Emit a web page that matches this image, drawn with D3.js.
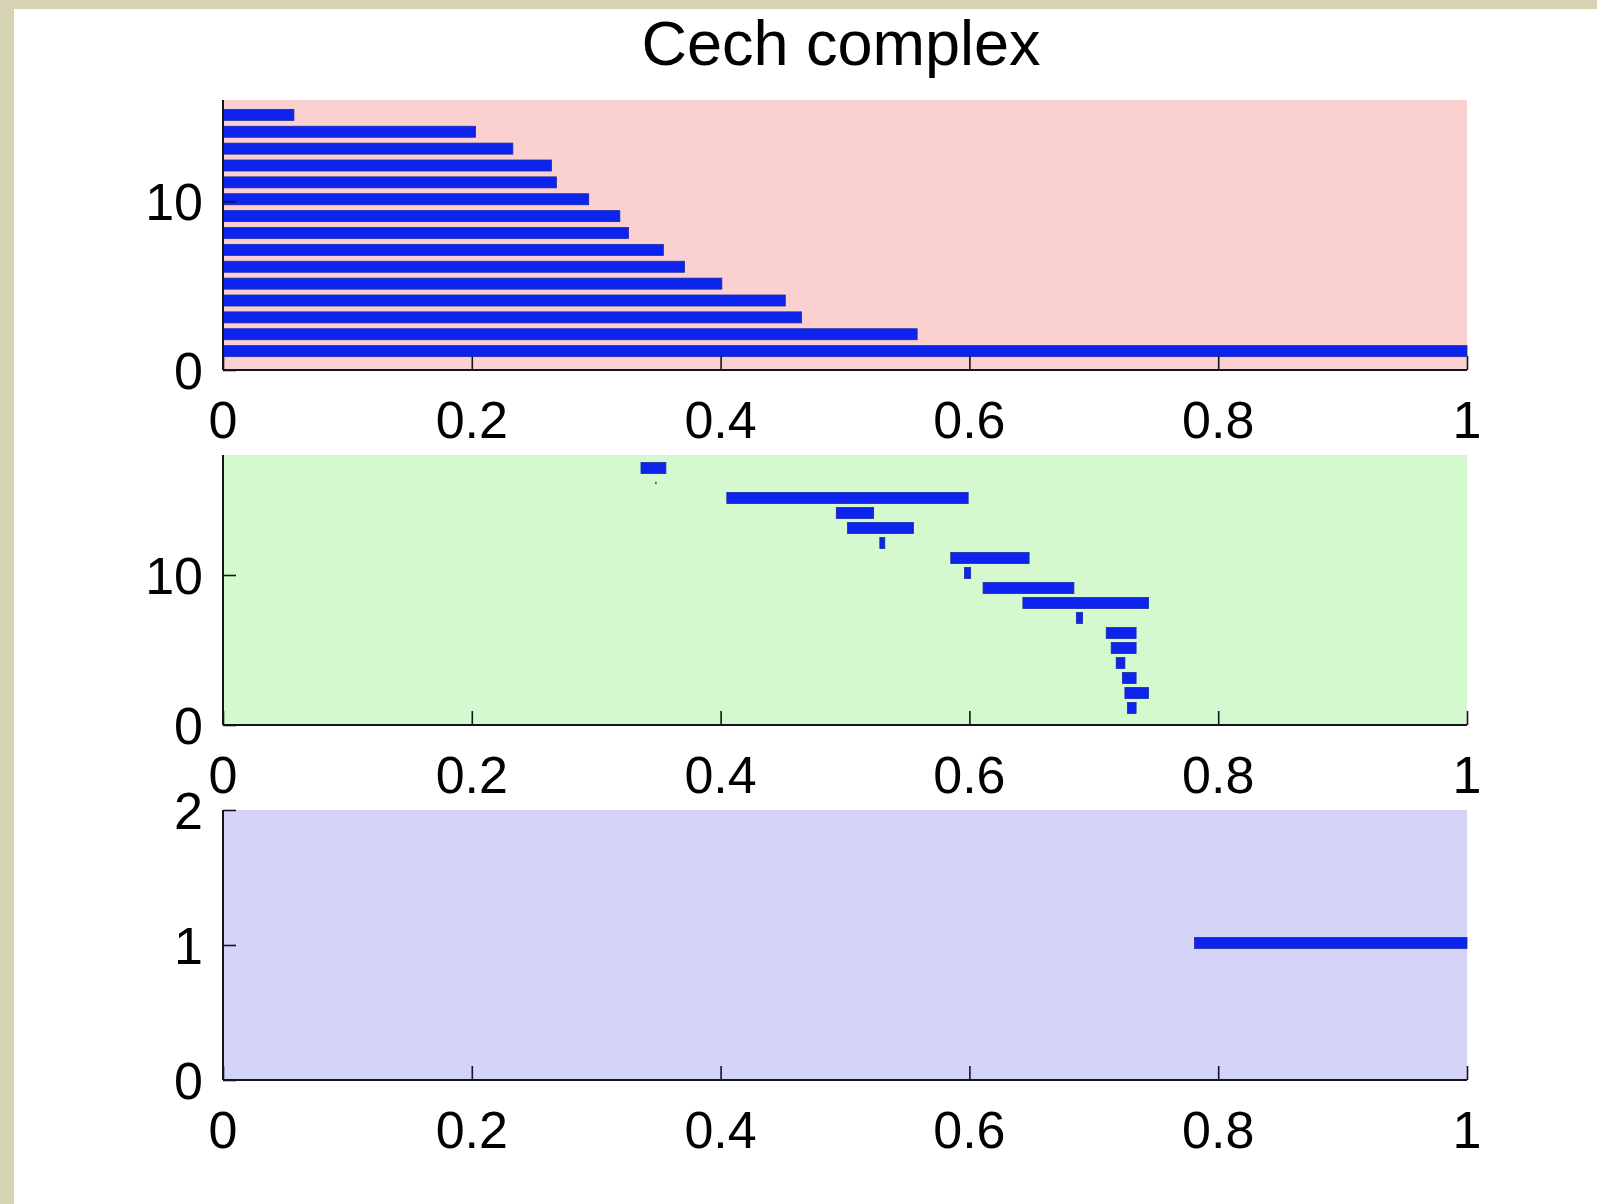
<!DOCTYPE html>
<html>
<head>
<meta charset="utf-8">
<script src="https://cdn.jsdelivr.net/npm/d3@7"></script>
<style>
  html, body { margin: 0; padding: 0; background: #ffffff; }
  svg { display: block; }
  text { font-family: "Liberation Sans", Arial, Helvetica, sans-serif; fill: #000; }
</style>
</head>
<body>
<svg id="chart" width="1597" height="1204"></svg>
<script>
// ---------- DATA ----------
const title = "Cech complex";
const xTicks = [0, 0.2, 0.4, 0.6, 0.8, 1];
const xTickLabels = ["0", "0.2", "0.4", "0.6", "0.8", "1"];

// Dimension 0 barcode (index 1 = bottom bar), birth / death
const h0Births = [0, 0, 0, 0, 0, 0, 0, 0, 0, 0, 0, 0, 0, 0, 0];
const h0Deaths = [1.0, 0.558, 0.465, 0.452, 0.401, 0.371, 0.354, 0.326, 0.319, 0.294, 0.268, 0.264, 0.233, 0.203, 0.057];
const h0YDomain = [0, 16];
const h0YTicks = [0, 10];

// Dimension 1 barcode (index 1 = bottom bar)
const h1Births = [0.727, 0.725, 0.723, 0.718, 0.714, 0.710, 0.686, 0.643, 0.611, 0.596, 0.585, 0.528, 0.502, 0.493, 0.405, 0.3475, 0.336];
const h1Deaths = [0.734, 0.744, 0.734, 0.725, 0.734, 0.734, 0.691, 0.744, 0.684, 0.601, 0.648, 0.532, 0.555, 0.523, 0.599, 0.3485, 0.356];
const h1YDomain = [0, 18];
const h1YTicks = [0, 10];

// Dimension 2 barcode
const h2Births = [0.781];
const h2Deaths = [1.0];
const h2YDomain = [0, 2];
const h2YTicks = [0, 1, 2];

// ---------- LAYOUT / STYLE ----------
const W = 1597, H = 1204;
const plotLeft = 223, plotRight = 1467;
const panels = [
  { births: h0Births, deaths: h0Deaths, domain: h0YDomain, ticks: h0YTicks, top: 100, bottom: 370, bg: "#fad1d0" },
  { births: h1Births, deaths: h1Deaths, domain: h1YDomain, ticks: h1YTicks, top: 455, bottom: 725, bg: "#d4f9cf" },
  { births: h2Births, deaths: h2Deaths, domain: h2YDomain, ticks: h2YTicks, top: 810, bottom: 1080, bg: "#d3d4f8" }
];
const barColor = "#0c24ee";
const barEdge = "#1a2aa6";
const barThick = 11;
const barOffset = -2;
const axisColor = "#141420";

const svg = d3.select("#chart");

// page background: white card with beige frame strips
svg.append("rect").attr("x", 0).attr("y", 0).attr("width", W).attr("height", H).attr("fill", "#ffffff");
svg.append("rect").attr("x", 0).attr("y", 0).attr("width", W).attr("height", 9).attr("fill", "#d5d3b4");
svg.append("rect").attr("x", 0).attr("y", 0).attr("width", 14).attr("height", H).attr("fill", "#d5d3b4");

// title
svg.append("text")
  .attr("x", 841).attr("y", 65)
  .attr("text-anchor", "middle")
  .style("font-size", "63px")
  .text(title);

const x = d3.scaleLinear().domain([0, 1]).range([plotLeft, plotRight]);

panels.forEach(p => {
  const y = d3.scaleLinear().domain(p.domain).range([p.bottom, p.top]);
  const g = svg.append("g");

  // background
  g.append("rect")
    .attr("x", x(0)).attr("y", p.top)
    .attr("width", x(1) - x(0)).attr("height", p.bottom - p.top)
    .attr("fill", p.bg);

  // bars
  const data = p.births.map((b, i) => ({ idx: i + 1, b, d: p.deaths[i] }));
  const isDot = d => d.d - d.b < 0.002;
  g.selectAll("rect.bar").data(data).enter().append("rect")
    .attr("class", "bar")
    .attr("x", d => x(d.b))
    .attr("width", d => Math.max(x(d.d) - x(d.b), 1))
    .attr("y", d => isDot(d) ? y(d.idx) + barOffset - 1.2 : y(d.idx) + barOffset - barThick / 2)
    .attr("height", d => isDot(d) ? 2.4 : barThick)
    .attr("fill", d => isDot(d) ? "#1a2a50" : barColor)
    .attr("stroke", d => isDot(d) ? "none" : barEdge)
    .attr("stroke-width", 0.8);

  // x axis (ticks inward)
  const xAxis = d3.axisTop(x).tickValues(xTicks).tickSize(14).tickFormat(() => "");
  const xg = g.append("g").attr("transform", `translate(0,${p.bottom})`).call(xAxis);
  xg.select(".domain").remove();
  xg.selectAll(".tick line").attr("stroke", axisColor).attr("stroke-width", 1.6);
  g.append("line")
    .attr("x1", x(0)).attr("x2", x(1))
    .attr("y1", p.bottom).attr("y2", p.bottom)
    .attr("stroke", axisColor).attr("stroke-width", 2);
  g.selectAll("text.xlab").data(xTicks).enter().append("text")
    .attr("class", "xlab")
    .attr("x", d => x(d))
    .attr("y", p.bottom + 68)
    .attr("text-anchor", "middle")
    .style("font-size", "52px")
    .text((d, i) => xTickLabels[i]);

  // y axis (ticks inward)
  const yAxis = d3.axisRight(y).tickValues(p.ticks).tickSize(13).tickFormat(() => "");
  const yg = g.append("g").attr("transform", `translate(${plotLeft},0)`).call(yAxis);
  yg.select(".domain").remove();
  yg.selectAll(".tick line").attr("stroke", axisColor).attr("stroke-width", 1.6);
  g.append("line")
    .attr("x1", plotLeft).attr("x2", plotLeft)
    .attr("y1", p.top).attr("y2", p.bottom)
    .attr("stroke", axisColor).attr("stroke-width", 2);
  g.selectAll("text.ylab").data(p.ticks).enter().append("text")
    .attr("class", "ylab")
    .attr("x", 203)
    .attr("y", d => y(d))
    .attr("dy", "0.36em")
    .attr("text-anchor", "end")
    .style("font-size", "52px")
    .text(d => String(d));
});
</script>
</body>
</html>
